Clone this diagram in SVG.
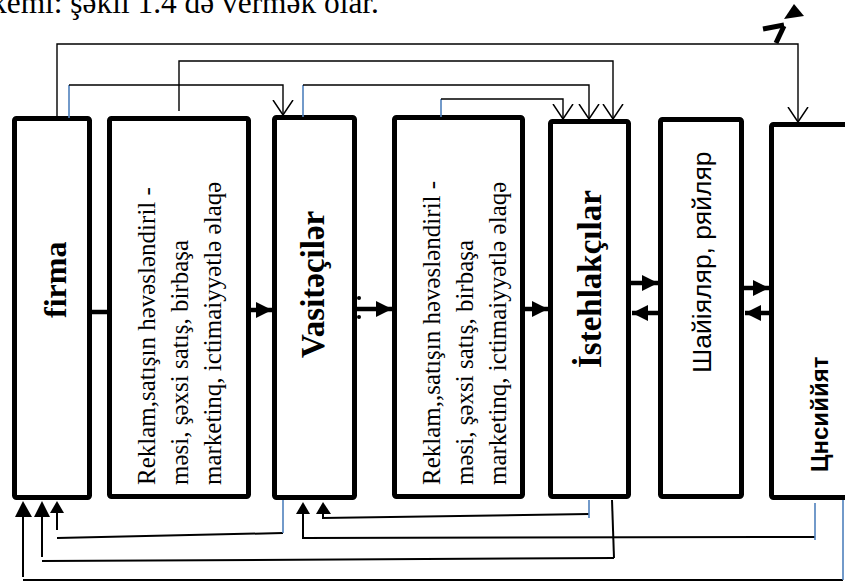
<svg xmlns="http://www.w3.org/2000/svg" width="845" height="583" viewBox="0 0 845 583">
  <style>
    .box { fill: #ffffff; stroke: #000000; stroke-width: 5; }
    .thin { fill: none; stroke: #000000; stroke-width: 1.4; }
    .mid { fill: none; stroke: #000000; stroke-width: 2; }
    .thick { fill: none; stroke: #000000; stroke-width: 4.5; }
    .blue { fill: none; stroke: #4f81bd; stroke-width: 1.6; }
    .serif { font-family: "Liberation Serif", "Times New Roman", serif; fill: #000000; }
    .sans { font-family: "Liberation Sans", Arial, sans-serif; fill: #000000; }
    .bold { font-weight: bold; }
    .head { fill: #000000; stroke: none; }
  </style>
  <defs>
    <marker id="open" viewBox="0 0 16 22" refX="15" refY="11" markerWidth="16" markerHeight="22" markerUnits="userSpaceOnUse" orient="auto">
      <path d="M0,1 L15,11 L0,21" fill="none" stroke="#000000" stroke-width="1.5"/>
    </marker>
    <marker id="solid" viewBox="0 0 16 16" refX="16" refY="8" markerWidth="16" markerHeight="16" markerUnits="userSpaceOnUse" orient="auto">
      <path d="M0,0 L16,8 L0,16 Z" fill="#000000"/>
    </marker>
  </defs>

  <!-- caption line, cut by the top edge -->
  <text class="serif" x="-9" y="13" font-size="31.4">kemi: şəkil 1.4 də vermək olar.</text>

  <!-- nodes -->
  <g id="firma">
    <rect class="box" x="14.5" y="118.5" width="75" height="379" rx="2"/>
    <text class="serif bold" font-size="32" transform="translate(66,318) rotate(-90)">firma</text>
  </g>
  <g id="reklam-1">
    <rect class="box" x="109.5" y="118.5" width="139" height="378" rx="2"/>
    <g class="serif" font-size="25">
      <text transform="translate(155,485) rotate(-90)">Reklam,satışın həvəsləndiril -</text>
      <text transform="translate(188,485) rotate(-90)">məsi, şəxsi satış, birbaşa</text>
      <text transform="translate(221,485) rotate(-90)">marketinq, ictimaiyyətlə əlaqə</text>
    </g>
  </g>
  <g id="vasitecilar">
    <rect class="box" x="274.5" y="117.5" width="80" height="380" rx="2"/>
    <text class="serif bold" font-size="33" transform="translate(324,358) rotate(-90)">Vasitəçilər</text>
  </g>
  <g id="reklam-2">
    <rect class="box" x="394.5" y="117.5" width="128" height="379" rx="2"/>
    <g class="serif" font-size="25">
      <text transform="translate(440,485) rotate(-90)">Reklam,,satışın həvəsləndiril -</text>
      <text transform="translate(473,485) rotate(-90)">məsi, şəxsi satış, birbaşa</text>
      <text transform="translate(506,485) rotate(-90)">marketinq, ictimaiyyətlə əlaqə</text>
    </g>
  </g>
  <g id="istehlakcilar">
    <rect class="box" x="550.5" y="121.5" width="78" height="375" rx="2"/>
    <text class="serif bold" font-size="33" transform="translate(601,368) rotate(-90)">İstehlakçılar</text>
  </g>
  <g id="sayieler">
    <rect class="box" x="660.5" y="119.5" width="81" height="377" rx="2"/>
    <text class="sans" font-size="26.5" transform="translate(711,373) rotate(-90)">Шайіяляр, ряйляр</text>
  </g>
  <g id="cemiyyet">
    <rect class="box" x="771.5" y="124.5" width="90" height="373" rx="2"/>
    <text class="sans bold" font-size="24" transform="translate(828,472) rotate(-90)">Цнсиййят</text>
  </g>

  <g id="connectors">
    <!-- upper feedback lines with open heads -->
    <path class="thin" d="M57,116 V44 H798 V122" marker-end="url(#open)"/>
    <path class="thin" d="M179,111 V61 H613 V119" marker-end="url(#open)"/>
    <path class="blue" d="M69,118 V85"/>
    <path class="thin" d="M69,85 H283 V115" marker-end="url(#open)"/>
    <path class="blue" d="M303,117 V85"/>
    <path class="thin" d="M303,85 H589 V119" marker-end="url(#open)"/>
    <path class="blue" d="M441,117 V99"/>
    <path class="thin" d="M441,99 H563 V119" marker-end="url(#open)"/>

    <!-- stray arrow mark above the top line -->
    <path d="M776,43 L784,26" stroke="#000000" stroke-width="5" fill="none"/>
    <path d="M763,29 L784,25" stroke="#000000" stroke-width="5" fill="none"/>
    <polygon class="head" points="794,4 804,16 784,19"/>

    <!-- main chain -->
    <path class="thick" d="M92,312 H107"/>
    <path class="thick" d="M251,310 H272" marker-end="url(#solid)"/>
    <path class="thick" d="M357,309 H392" marker-end="url(#solid)"/>
    <circle cx="359" cy="298" r="2" fill="#000000"/>
    <circle cx="359" cy="317" r="2" fill="#000000"/>
    <path class="thick" d="M525,309 H548" marker-end="url(#solid)"/>
    <path class="thick" d="M631,283 H658" marker-end="url(#solid)"/>
    <path class="thick" d="M658,313 H632" marker-end="url(#solid)"/>
    <path class="thick" d="M744,288 H769" marker-end="url(#solid)"/>
    <path class="thick" d="M769,313 H745" marker-end="url(#solid)"/>

    <!-- lower return lines -->
    <polygon class="head" points="57,501 50,513 64,513"/>
    <polygon class="head" points="42,501 34,517 50,517"/>
    <polygon class="head" points="23,501 15,517 32,517"/>
    <path class="mid" d="M57,513 V530"/>
    <path class="mid" d="M57,538 L283,533"/>
    <path class="blue" d="M283,500 V533"/>
    <path class="mid" d="M42,516 V557"/>
    <path class="mid" d="M42,561 L614,558"/>
    <path class="mid" d="M612,500 L614,558"/>
    <path class="mid" d="M23,516 V577"/>
    <path class="mid" d="M23,580 H843"/>
    <path class="blue" d="M843,500 V580"/>

    <polygon class="head" points="303,502 296,514 310,514"/>
    <polygon class="head" points="323,502 316,514 331,514"/>
    <path class="mid" d="M303,513 V538 L815,537"/>
    <path class="blue" d="M815,503 V540"/>
    <path class="mid" d="M323,513 V518 L589,514"/>
    <path class="blue" d="M589,500 V518"/>
  </g>
</svg>
